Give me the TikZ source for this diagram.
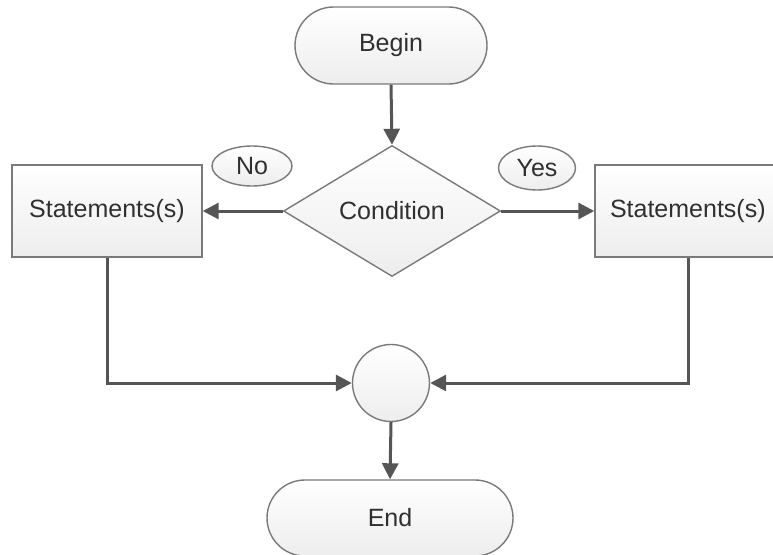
\documentclass[tikz,border=0pt]{standalone}
\usepackage{fontspec}
\setmainfont{Liberation Sans}
\usetikzlibrary{shapes.geometric,shapes.misc,arrows.meta}

\definecolor{edgegray}{HTML}{7A7A7A}
\definecolor{linegray}{HTML}{555555}
\definecolor{textgray}{HTML}{303030}

\tikzset{
  shape base/.style={draw=edgegray, line width=1.4pt,
    top color=white, bottom color=white!93!black,
    text=textgray, inner sep=0pt,
    font=\fontsize{25}{29}\selectfont},
  terminal/.style={shape base, rounded rectangle},
  process/.style={shape base, rectangle},
  decision/.style={shape base, diamond},
  junction/.style={shape base, circle},
  branchlabel/.style={shape base, ellipse},
  flow/.style={draw=linegray, line width=3pt,
    -{Triangle[length=16pt,width=16pt]}}
}

\begin{document}
\begin{tikzpicture}[x=1pt, y=-1pt]
  \useasboundingbox (0,0) rectangle (773,554);
  \clip (0,0) rectangle (773,554);

  % start and end terminals
  \node[terminal, minimum width=192pt, minimum height=77pt] (begin) at (391,45.5) {Begin};
  \node[terminal, minimum width=246pt, minimum height=76pt] (end) at (390,518) {End};

  % decision
  \node[decision, minimum width=217pt, minimum height=131pt, aspect=1.66] (cond) at (392,211) {Condition};

  % branch processes
  \node[process, minimum width=190pt, minimum height=92pt] (left) at (107,211) {Statements(s)};
  \node[process, minimum width=190pt, minimum height=92pt, text width=160pt, align=left] (right) at (690,211) {Statements(s)};

  % branch labels
  \node[branchlabel, minimum width=80pt, minimum height=40pt] (no) at (252,166) {No};
  \node[branchlabel, minimum width=77pt, minimum height=44pt] (yes) at (537,168) {Yes};

  % merge point
  \node[junction, minimum size=77pt] (merge) at (391,383) {};

  % connectors
  \draw[flow] (begin.south) -- (cond.north);
  \draw[flow] (cond.west) -- (left.east);
  \draw[flow] (cond.east) -- (right.west);
  \draw[flow] (left.south) |- (merge.west);
  \draw[flow] ([xshift=-2pt]right.south) |- (merge.east);
  \draw[flow] (merge.south) -- (end.north);
\end{tikzpicture}
\end{document}
